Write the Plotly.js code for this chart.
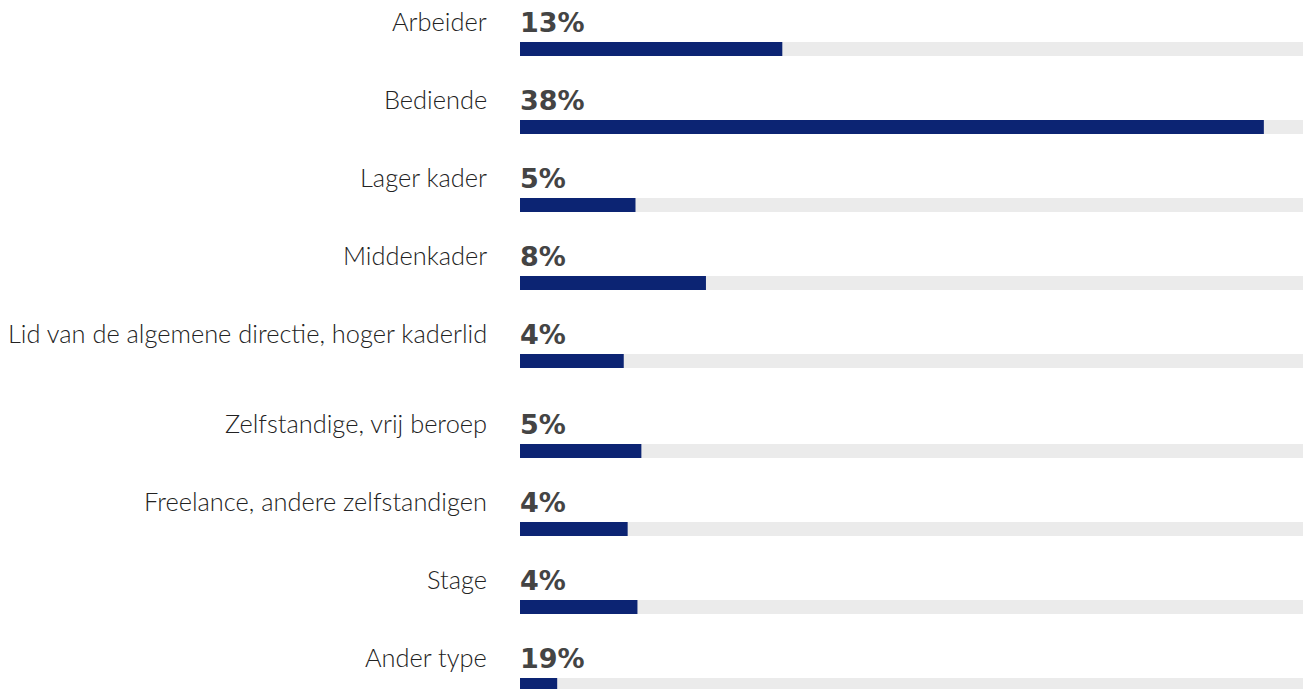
<!DOCTYPE html>
<html>
<head>
<meta charset="utf-8">
<script src="https://cdn.plot.ly/plotly-3.0.1.min.js"></script>
<style>
html,body{margin:0;padding:0;background:#fff;}
#chart{width:1304px;height:689px;}
</style>
</head>
<body>
<div id="chart"></div>
<script>
const categories = [
  "Arbeider",
  "Bediende",
  "Lager kader",
  "Middenkader",
  "Lid van de algemene directie, hoger kaderlid",
  "Zelfstandige, vrij beroep",
  "Freelance, andere zelfstandigen",
  "Stage",
  "Ander type"
];
const barValues = [13.4, 38.0, 5.9, 9.5, 5.3, 6.2, 5.5, 6.0, 1.9];
const percentLabels = ["13%", "38%", "5%", "8%", "4%", "5%", "4%", "4%", "19%"];
const scaleMax = 40;

// layout: row positions (in px-like units), with a slightly larger gap after row 5
const rowStep = 78, extraGap = 12, breakAfter = 4;
const rowPos = categories.map((c, i) => i * rowStep + (i > breakAfter ? extraGap : 0));
const trackValues = categories.map(() => scaleMax);

const track = {
  type: 'bar', orientation: 'h',
  x: trackValues, y: rowPos, width: 14,
  marker: {color: '#ebebeb'}, hoverinfo: 'skip', showlegend: false
};
const bars = {
  type: 'bar', orientation: 'h',
  x: barValues, y: rowPos, width: 14,
  marker: {color: '#0c2473'}, hoverinfo: 'skip', showlegend: false
};

const annotations = [];
categories.forEach((c, i) => {
  annotations.push({
    xref: 'paper', yref: 'y', x: -0.0395, y: rowPos[i] - 28,
    xanchor: 'right', yanchor: 'middle', text: c, showarrow: false,
    font: {family: 'Lato, sans-serif', size: 25.4, color: '#222', weight: 300}
  });
  annotations.push({
    xref: 'x', yref: 'y', x: 0, y: rowPos[i] - 27,
    xanchor: 'left', yanchor: 'middle', text: '<b>' + percentLabels[i] + '</b>', showarrow: false,
    xshift: -2,
    font: {family: 'DejaVu Sans, sans-serif', size: 27, color: '#444'}
  });
});

const layout = {
  width: 1304, height: 689,
  margin: {l: 520, r: 1, t: 0, b: 0, pad: 0},
  paper_bgcolor: '#fff', plot_bgcolor: '#fff',
  barmode: 'overlay',
  xaxis: {range: [0, scaleMax], visible: false, fixedrange: true},
  yaxis: {range: [640, -49], visible: false, fixedrange: true},
  annotations: annotations,
  showlegend: false
};

Plotly.newPlot('chart', [track, bars], layout, {displayModeBar: false, staticPlot: true});
</script>
</body>
</html>
